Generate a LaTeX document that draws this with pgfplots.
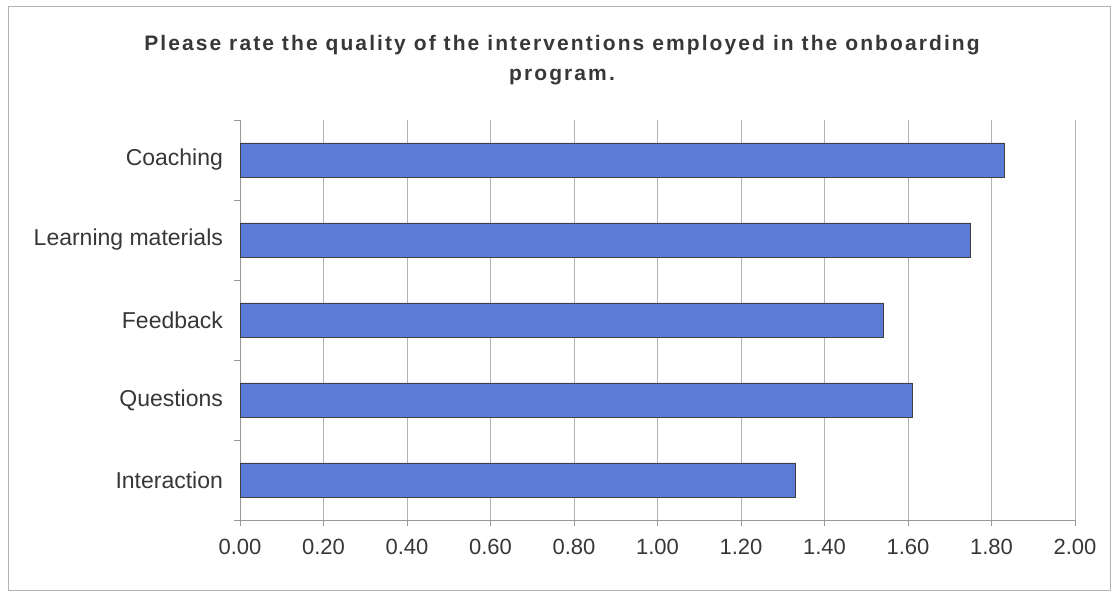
\documentclass[border=0pt]{standalone}
\usepackage{pgfplots}
\pgfplotsset{compat=1.18}
\usepackage{fontspec}
\setmainfont{Liberation Sans}
\definecolor{barblue}{RGB}{91,123,214}
\definecolor{gridgray}{RGB}{180,180,180}
\definecolor{txt}{RGB}{55,55,55}

\begin{document}
\begin{tikzpicture}
\useasboundingbox (0,0) rectangle (559pt,297pt);
\draw[gray!60] (4pt,2pt) rectangle (555pt,294pt);
% title
\node[font=\bfseries\fontsize{10.5}{15}\selectfont\addfontfeatures{LetterSpace=10}, align=center, text=txt]
  at (281pt,267pt) {Please rate the quality of the interventions employed in the onboarding\\program.};
\begin{axis}[
    at={(120pt,37pt)}, anchor=south west,
    scale only axis,
    width=417.5pt, height=200pt,
    xbar, bar width=17pt,
    xmin=0, xmax=2, ymin=0.5, ymax=5.5,
    axis x line*=bottom, axis y line*=left,
    axis line style={gray!80, -},
    xtick={0,0.2,...,2.01},
    /pgf/number format/fixed,
    /pgf/number format/fixed zerofill,
    /pgf/number format/precision=2,
    /pgf/number format/assume math mode=true,
    ytick={1,2,3,4,5},
    yticklabels={Interaction, Questions, Feedback, Learning materials, Coaching},
    minor ytick={0.5,1.5,...,5.5},
    tick align=outside,
    major tick length=3pt,
    minor tick length=3pt,
    y tick style={draw=none},
    minor y tick style={draw=gray!80},
    x tick style={gray!80},
    xmajorgrids,
    grid style={gridgray},
    ticklabel style={font=\fontsize{11}{13}\selectfont, text=txt},
    yticklabel style={font=\fontsize{11.5}{13}\selectfont, xshift=-2pt},
    xticklabel style={yshift=-3pt},
]
\addplot[fill=barblue, draw=black!75] coordinates {
    (1.33,1) (1.61,2) (1.54,3) (1.75,4) (1.83,5)
};
\end{axis}
\end{tikzpicture}
\end{document}
